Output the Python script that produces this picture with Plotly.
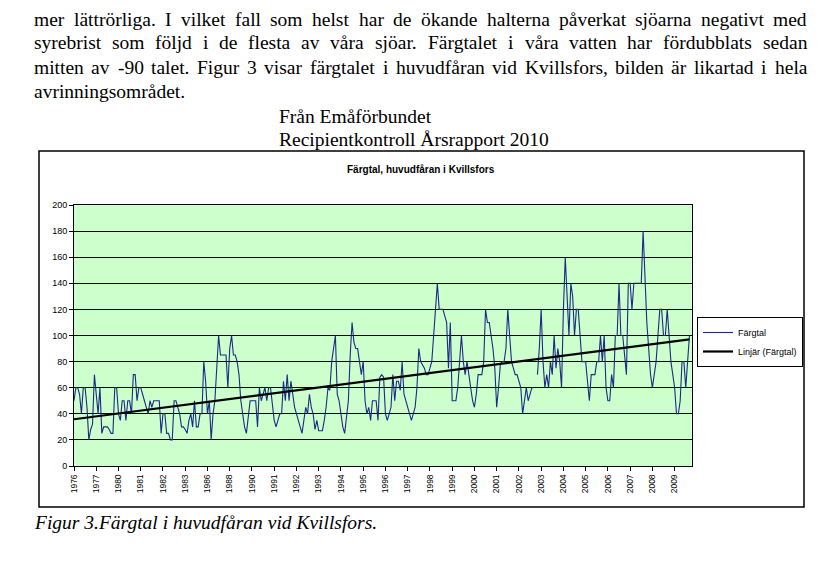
import numpy as np
import plotly.graph_objects as go

# ---------------- data ----------------
tick_labels = ["1976", "1977", "1980", "1981", "1982", "1983", "1986", "1988", "1990",
               "1991", "1992", "1993", "1994", "1995", "1996", "1997", "1998", "1999",
               "2000", "2001", "2002", "2003", "2004", "2005", "2006", "2007", "2008", "2009"]
samples_per_label = 12

fargtal = [
    50, 60, 60, 55, 40, 60, 60, 45, 20, 28, 32, 70,
    55, 40, 60, 25, 30, 30, 30, 28, 25, 25, 60, 60,
    40, 35, 50, 50, 35, 50, 50, 40, 70, 70, 50, 60,
    60, 55, 50, 45, 40, 50, 45, 50, 50, 50, 50, 25,
    40, 40, 25, 25, 20, 20, 50, 50, 45, 40, 30, 30,
    28, 25, 35, 40, 30, 50, 30, 30, 40, 40, 80, 65,
    40, 50, 20, 40, 50, 80, 100, 85, 85, 85, 85, 60,
    90, 100, 85, 85, 80, 70, 50, 40, 30, 25, 40, 50,
    50, 50, 50, 30, 60, 50, 55, 60, 50, 60, 60, 45,
    35, 30, 35, 40, 40, 65, 50, 70, 50, 65, 55, 45,
    40, 35, 30, 25, 35, 45, 40, 55, 45, 40, 28, 35,
    27, 27, 27, 35, 45, 60, 58, 80, 90, 100, 55, 50,
    40, 30, 25, 40, 50, 85, 110, 95, 90, 90, 80, 70,
    80, 50, 40, 45, 35, 50, 50, 50, 35, 68, 70, 68,
    40, 35, 40, 45, 70, 50, 65, 65, 58, 80, 55, 50,
    45, 40, 35, 40, 45, 60, 90, 80, 78, 75, 70, 70,
    75, 80, 100, 120, 140, 120, 120, 120, 115, 110, 75, 110,
    50, 50, 50, 60, 80, 100, 80, 70, 80, 70, 60, 50,
    45, 55, 70, 70, 70, 80, 120, 110, 110, 100, 90, 75,
    45, 60, 78, 80, 80, 90, 120, 100, 80, 75, 70, 70,
    65, 60, 40, 50, 60, 50, 55, 60, 60, None, 70, 90,
    120, 80, 60, 70, 60, 80, 70, 100, 75, 90, 80, 60,
    120, 160, 130, 100, 140, 130, 100, 120, 120, 100, 80, 80,
    80, 65, 50, 70, 70, 70, 80, 80, 100, 80, 100, 60,
    50, 50, 70, 60, 100, 100, 140, 100, 100, 85, 70, 140,
    140, 120, 140, 140, 140, 140, 140, 180, 140, 110, 90, 70,
    60, 70, 80, 100, 120, 120, 100, 100, 120, 100, 80, 70,
    60, 40, 40, 50, 80, 80, 60, 80, 100,
]

justified_lines = [
    "mer lättrörliga. I vilket fall som helst har de ökande halterna påverkat sjöarna negativt med",
    "syrebrist som följd i de flesta av våra sjöar. Färgtalet i våra vatten har fördubblats sedan",
    "mitten av -90 talet. Figur 3 visar färgtalet i huvudfåran vid Kvillsfors, bilden är likartad i hela",
]
last_line = "avrinningsområdet."
source_lines = ["Från Emåförbundet", "Recipientkontroll Årsrapport 2010"]
chart_title = "Färgtal, huvudfåran i Kvillsfors"
caption = "Figur 3.Färgtal i huvudfåran vid Kvillsfors."

# ---------------- layout helpers (page pixel coordinates) ----------------
PAGE_W, PAGE_H = 836, 571
BODY = 8                      # default page body margin
W, H = PAGE_W - BODY, PAGE_H - BODY
PL, PR, PT, PB = 74, 692, 205, 466   # plot area on the page


def fx(px):
    return (px - PL) / (PR - PL)


def fy(py):
    return (PB - py) / (PB - PT)


# Times-Roman advance widths (1/1000 em) for word placement in justified lines
_tw = dict(zip("abcdefghijklmnopqrstuvwxyz",
               [444, 500, 444, 500, 444, 333, 500, 500, 278, 278, 500, 278, 778, 500, 500,
                500, 500, 333, 389, 278, 500, 500, 722, 500, 500, 444]))
_tw.update(dict(zip("ABCDEFGHIJKLMNOPQRSTUVWXYZ",
                    [722, 667, 667, 722, 611, 556, 722, 722, 333, 389, 722, 611, 889, 722, 722,
                     556, 722, 667, 556, 611, 722, 722, 944, 722, 722, 611])))
_tw.update({"ä": 444, "å": 444, "ö": 500, "Å": 722, ".": 250, ",": 250, "-": 333,
            "(": 333, ")": 333, " ": 250})
for d in "0123456789":
    _tw[d] = 500


def text_w(s, size):
    return sum(_tw.get(c, 500) for c in s) * size / 1000.0


serif = "Liberation Serif, Times New Roman, serif"
sans = "Liberation Sans, Arial, sans-serif"
FS = 19.5
TXT_L, TXT_R = 33, 806

x = np.arange(len(fargtal))
y = np.array([np.nan if v is None else v for v in fargtal], dtype=float)
m = ~np.isnan(y)
slope, icpt = np.polyfit(x[m], y[m], 1)
trend_x = np.array([x[0], x[-1]])
trend_y = icpt + slope * trend_x

fig = go.Figure()
fig.add_trace(go.Scatter(x=x, y=fargtal, mode="lines",
                         name="Färgtal", line=dict(color="#1c2a85", width=1.1),
                         connectgaps=False))
fig.add_trace(go.Scatter(x=trend_x, y=trend_y, mode="lines", name="Linjär (Färgtal)",
                         line=dict(color="black", width=2.2)))

x_end = (691.7 - 74.3) / 1.852
fig.update_xaxes(range=[0, x_end], tickvals=[i * samples_per_label for i in range(len(tick_labels))],
                 ticktext=tick_labels, tickangle=-90, ticks="outside", ticklen=4,
                 tickcolor="black", showline=True, linecolor="black", linewidth=1, mirror=True,
                 showgrid=False, zeroline=False, automargin=False,
                 tickfont=dict(family=sans, size=8.5, color="black"))
fig.update_yaxes(range=[0, 200], dtick=20, ticks="outside", ticklen=4, tickcolor="black",
                 showline=True, linecolor="black", linewidth=1, mirror=True,
                 showgrid=True, gridcolor="black", gridwidth=1, zeroline=False, automargin=False,
                 tickfont=dict(family=sans, size=9, color="black"))

ann = []
line_ys = [19.5, 42, 67]
for line, yc in zip(justified_lines, line_ys):
    words = line.split(" ")
    widths = [text_w(w, FS) for w in words]
    gap = (TXT_R - TXT_L - sum(widths)) / (len(words) - 1)
    xpos = TXT_L
    for w, wd in zip(words, widths):
        ann.append(dict(x=fx(xpos), y=fy(yc), text=w, xanchor="left"))
        xpos += wd + gap
ann.append(dict(x=fx(33), y=fy(91), text=last_line, xanchor="left"))
ann.append(dict(x=fx(278), y=fy(116), text=source_lines[0], xanchor="left"))
ann.append(dict(x=fx(278), y=fy(139), text=source_lines[1], xanchor="left"))
ann.append(dict(x=fx(33), y=fy(522), text="<i>" + caption + "</i>", xanchor="left"))
for a in ann:
    a.update(xref="paper", yref="paper", yanchor="middle", showarrow=False, borderpad=0,
             font=dict(family=serif, size=FS, color="black"))
ann.append(dict(x=fx(421), y=fy(169), xref="paper", yref="paper", xanchor="center",
                yanchor="middle", showarrow=False, text="<b>" + chart_title + "</b>",
                font=dict(family=sans, size=10, color="black")))

fig.update_layout(
    width=W, height=H, autosize=False,
    margin=dict(l=PL - BODY, r=PAGE_W - PR, t=PT - BODY, b=PAGE_H - PB, pad=0, autoexpand=False),
    paper_bgcolor="white", plot_bgcolor="#CCFFCC",
    showlegend=True,
    legend=dict(x=fx(697), y=fy(317), xanchor="left", yanchor="top",
                bgcolor="white", bordercolor="black", borderwidth=1,
                font=dict(family=sans, size=9, color="black"),
                tracegroupgap=0, itemwidth=30),
    annotations=ann,
    shapes=[dict(type="rect", xref="paper", yref="paper",
                 x0=fx(39), x1=fx(804), y0=fy(151), y1=fy(507),
                 line=dict(color="black", width=1.5), layer="below")],
)

fig.write_html("out.html")
